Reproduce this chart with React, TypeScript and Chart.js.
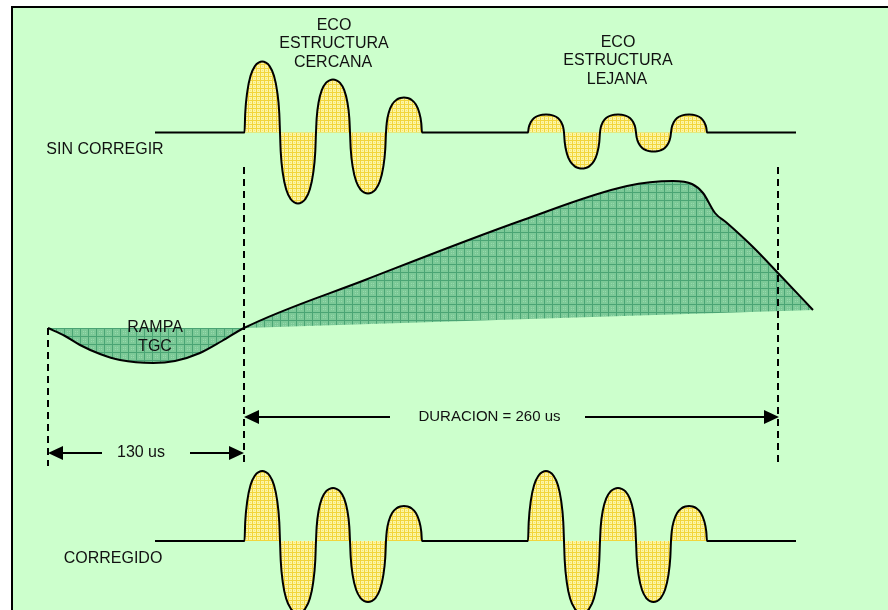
import React, { useEffect, useRef } from "react";
import { Chart, registerables } from "chart.js";

Chart.register(...registerables);

// ---------- diagram data (diagram units) ----------
// echo lobe boundaries along the time axis
const NEAR_ECHO_EDGES = [244.5, 280, 316, 350, 386, 422];
const FAR_ECHO_EDGES = [528, 564, 600, 636, 671, 707];
// lobe amplitudes (positive = up)
const UNCORRECTED_NEAR_AMPS = [71, -71, 53, -61, 35];
const UNCORRECTED_FAR_AMPS = [18, -36, 18, -19, 18];
const CORRECTED_NEAR_AMPS = [70, -72, 53, -61, 35];
const CORRECTED_FAR_AMPS = [70, -72, 53, -61, 35];
// traces: baseline level and extent
const TOP_TRACE_BASE = 132.5;
const BOTTOM_TRACE_BASE = 541;
const TRACE_START = 155;
const TRACE_END = 796;
// shape of one lobe (fraction of width -> fraction of amplitude)
const LOBE_FRACTIONS = [0.02, 0.08, 0.17, 0.3, 0.4, 0.5, 0.6, 0.7, 0.83, 0.92, 0.98, 1];
const LOBE_SHAPE = [0.27, 0.58, 0.8, 0.94, 0.985, 1, 0.985, 0.94, 0.8, 0.58, 0.27, 0];

// TGC ramp curve
const TGC_X = [48, 65, 80, 100, 120, 153, 175, 200, 222, 244, 365, 523, 627, 673, 692, 703, 715, 727, 753, 778, 813];
const TGC_Y = [328, 336, 345, 354, 360, 363, 361, 353, 341, 328, 280, 220, 186, 181, 184, 193, 213, 223, 247, 273, 310];
// lower boundary of the TGC shaded region
const TGC_BASE_X = [48, 244, 813];
const TGC_BASE_Y = [328, 328, 310];

// dashed time markers
const MARKER_X = [48, 244, 778];
const MARKER_TOP = [328, 167, 167];
const MARKER_BOTTOM = [466, 466, 466];

// dimension arrows
const ARROW_FROM = [48, 244];
const ARROW_TO = [244, 779];
const ARROW_Y = [453, 417];
const ARROW_BREAK_FROM = [102, 390];
const ARROW_BREAK_TO = [190, 585];
const ARROW_LABELS = ["130 us", "DURACION = 260 us"];
const ARROW_LABEL_X = [141, 489.5];
const ARROW_FONT_PX = [16, 15];

// text labels
const LABEL_TEXT = ["ECO", "ESTRUCTURA", "CERCANA", "ECO", "ESTRUCTURA", "LEJANA", "SIN CORREGIR", "RAMPA", "TGC", "CORREGIDO"];
const LABEL_X = [334, 334, 333, 618, 618, 617, 105, 155, 155, 113];
const LABEL_Y = [26, 44, 62.5, 42.5, 61, 80, 150, 327.5, 346.5, 559];

// frame of the picture
const FRAME_LEFT = 12;
const FRAME_TOP = 7;
const X_RANGE = [0, 888];
const Y_RANGE = [0, 610];

type P = { x: number; y: number };

function echoTrace(base: number, echoes: { edges: number[]; amps: number[] }[]): P[] {
  const pts: P[] = [{ x: TRACE_START, y: base }];
  for (const e of echoes) {
    pts.push({ x: e.edges[0], y: base });
    for (let i = 0; i < e.amps.length; i++) {
      const a = e.edges[i];
      const b = e.edges[i + 1];
      for (let j = 0; j < LOBE_FRACTIONS.length; j++) {
        pts.push({ x: a + LOBE_FRACTIONS[j] * (b - a), y: base - e.amps[i] * LOBE_SHAPE[j] });
      }
    }
  }
  pts.push({ x: TRACE_END, y: base });
  return pts;
}

function zip(xs: number[], ys: number[]): P[] {
  return xs.map((x, i) => ({ x, y: ys[i] }));
}

function makePattern(kind: "yellow" | "green"): CanvasPattern | string {
  const c = document.createElement("canvas");
  const s = kind === "yellow" ? 4 : 8;
  c.width = s;
  c.height = s;
  const g = c.getContext("2d");
  if (!g) return kind === "yellow" ? "#f6ea7a" : "#6fc290";
  if (kind === "yellow") {
    g.fillStyle = "#fbf6a6";
    g.fillRect(0, 0, s, s);
    g.fillStyle = "#f2d53c";
    g.fillRect(0, 0, s, 1);
    g.fillRect(0, 0, 1, s);
    g.fillStyle = "#f7e270";
    g.fillRect(2, 2, 1, 1);
  } else {
    g.fillStyle = "#7cc997";
    g.fillRect(0, 0, s, s);
    g.fillStyle = "#4aa474";
    g.fillRect(0, 0, s, 1);
    g.fillRect(0, 0, 1, s);
    g.fillStyle = "#96d8ab";
    g.fillRect(3, 3, 1, 1);
    g.fillRect(5, 5, 1, 1);
    g.fillRect(3, 5, 1, 1);
    g.fillRect(5, 3, 1, 1);
  }
  const p = g.createPattern(c, "repeat");
  return p || "#6fc290";
}

const FAMILY = '"Liberation Sans", Arial, sans-serif';

export default function App() {
  const ref = useRef<HTMLCanvasElement | null>(null);

  useEffect(() => {
    const canvas = ref.current;
    if (!canvas) return;
    const yellow = makePattern("yellow");
    const green = makePattern("green");

    const backgroundPlugin = {
      id: "diagramBackground",
      beforeDraw(chart: any) {
        const { ctx, scales } = chart;
        const fx = scales.x.getPixelForValue(FRAME_LEFT);
        const fy = scales.y.getPixelForValue(FRAME_TOP);
        ctx.save();
        ctx.fillStyle = "#ffffff";
        ctx.fillRect(0, 0, chart.width, chart.height);
        ctx.fillStyle = "#ccffcc";
        ctx.fillRect(fx, fy, chart.width - fx, chart.height - fy);
        ctx.strokeStyle = "#000000";
        ctx.lineWidth = 2;
        ctx.beginPath();
        ctx.moveTo(fx, chart.height);
        ctx.lineTo(fx, fy);
        ctx.lineTo(chart.width, fy);
        ctx.stroke();
        ctx.restore();
      },
    };

    const annotationPlugin = {
      id: "diagramAnnotations",
      afterDatasetsDraw(chart: any) {
        const { ctx, scales } = chart;
        const px = (v: number) => scales.x.getPixelForValue(v);
        const py = (v: number) => scales.y.getPixelForValue(v);
        ctx.save();
        ctx.fillStyle = "#111111";
        ctx.strokeStyle = "#000000";
        ctx.font = "16px " + FAMILY;
        ctx.textAlign = "center";
        ctx.textBaseline = "middle";
        LABEL_TEXT.forEach((t, i) => ctx.fillText(t, px(LABEL_X[i]), py(LABEL_Y[i])));

        ARROW_LABELS.forEach((label, i) => {
          const y = py(ARROW_Y[i]);
          const x0 = px(ARROW_FROM[i]);
          const x1 = px(ARROW_TO[i]);
          ctx.lineWidth = 2;
          ctx.beginPath();
          ctx.moveTo(x0 + 4, y);
          ctx.lineTo(px(ARROW_BREAK_FROM[i]), y);
          ctx.moveTo(px(ARROW_BREAK_TO[i]), y);
          ctx.lineTo(x1 - 4, y);
          ctx.stroke();
          ctx.fillStyle = "#000000";
          ctx.beginPath();
          ctx.moveTo(x0, y);
          ctx.lineTo(x0 + 15, y - 7);
          ctx.lineTo(x0 + 15, y + 7);
          ctx.closePath();
          ctx.fill();
          ctx.beginPath();
          ctx.moveTo(x1, y);
          ctx.lineTo(x1 - 15, y - 7);
          ctx.lineTo(x1 - 15, y + 7);
          ctx.closePath();
          ctx.fill();
          ctx.fillStyle = "#111111";
          ctx.font = ARROW_FONT_PX[i] + "px " + FAMILY;
          ctx.fillText(label, px(ARROW_LABEL_X[i]), y);
        });
        ctx.restore();
      },
    };

    const markerSets = MARKER_X.map((x, i) => ({
      label: "marker" + i,
      data: [
        { x, y: MARKER_TOP[i] },
        { x, y: MARKER_BOTTOM[i] },
      ],
      borderColor: "#000000",
      borderWidth: 2,
      borderDash: [7, 5],
      fill: false,
      pointRadius: 0,
      tension: 0,
    }));

    const chart = new Chart(canvas, {
      type: "line",
      data: {
        datasets: [
          ...markerSets,
          {
            label: "SIN CORREGIR",
            data: echoTrace(TOP_TRACE_BASE, [
              { edges: NEAR_ECHO_EDGES, amps: UNCORRECTED_NEAR_AMPS },
              { edges: FAR_ECHO_EDGES, amps: UNCORRECTED_FAR_AMPS },
            ]),
            borderColor: "#000000",
            borderWidth: 2,
            backgroundColor: yellow as any,
            fill: { value: TOP_TRACE_BASE },
            cubicInterpolationMode: "monotone",
            pointRadius: 0,
          },
          {
            label: "CORREGIDO",
            data: echoTrace(BOTTOM_TRACE_BASE, [
              { edges: NEAR_ECHO_EDGES, amps: CORRECTED_NEAR_AMPS },
              { edges: FAR_ECHO_EDGES, amps: CORRECTED_FAR_AMPS },
            ]),
            borderColor: "#000000",
            borderWidth: 2,
            backgroundColor: yellow as any,
            fill: { value: BOTTOM_TRACE_BASE },
            cubicInterpolationMode: "monotone",
            pointRadius: 0,
          },
          {
            label: "RAMPA TGC",
            data: zip(TGC_X, TGC_Y),
            borderColor: "#000000",
            borderWidth: 2,
            backgroundColor: green as any,
            fill: "+1",
            cubicInterpolationMode: "monotone",
            pointRadius: 0,
          },
          {
            label: "TGC base",
            data: zip(TGC_BASE_X, TGC_BASE_Y),
            borderWidth: 0,
            borderColor: "rgba(0,0,0,0)",
            fill: false,
            pointRadius: 0,
            tension: 0,
          },
        ] as any,
      },
      options: {
        animation: false,
        responsive: false,
        maintainAspectRatio: false,
        events: [],
        layout: { padding: 0 },
        plugins: {
          legend: { display: false },
          tooltip: { enabled: false },
          title: { display: false },
        },
        scales: {
          x: { type: "linear", min: X_RANGE[0], max: X_RANGE[1], display: false },
          y: { type: "linear", min: Y_RANGE[0], max: Y_RANGE[1], reverse: true, display: false },
        },
      },
      plugins: [backgroundPlugin, annotationPlugin],
    });

    return () => chart.destroy();
  }, []);

  return (
    <div style={{ position: "absolute", left: 0, top: 0, width: 888, height: 610 }}>
      <canvas ref={ref} width={888} height={610} style={{ display: "block", width: 888, height: 610 }} />
    </div>
  );
}
